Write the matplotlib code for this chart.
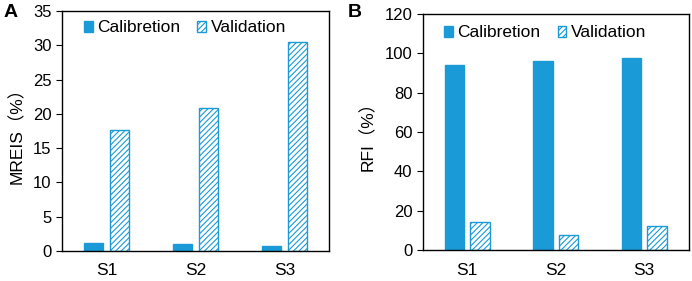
import numpy as np
import matplotlib
matplotlib.use("Agg")
from matplotlib import pyplot as plt

plt.rcParams['font.family'] = ['Liberation Sans', 'Noto Sans CJK SC', 'DejaVu Sans']
plt.rcParams['hatch.color'] = '#1a9ad6'
plt.rcParams['hatch.linewidth'] = 0.8

categories = ['S1', 'S2', 'S3']
mreis_cal = [1.1, 0.95, 0.65]
mreis_val = [17.7, 20.8, 30.4]
rfi_cal = [94.0, 96.0, 97.5]
rfi_val = [14.5, 7.5, 12.5]

blue = '#1a9ad6'


def draw_panel(ax, cal, val, ymax, step, ylabel, legend_y):
    x = np.arange(len(categories))
    w = 0.22
    ax.bar(x - 0.145, cal, w, color=blue, edgecolor=blue, label='Calibretion')
    ax.bar(x + 0.145, val, w, color='white', edgecolor=blue, hatch='//////',
           linewidth=1.0, label='Validation')
    ax.set_xlim(-0.5, len(categories) - 0.5)
    ax.set_ylim(0, ymax)
    ax.set_yticks(np.arange(0, ymax + 0.1, step))
    ax.set_xticks(x)
    ax.set_xticklabels(categories)
    ax.tick_params(axis='x', length=0, pad=9, labelsize=12.5)
    ax.tick_params(axis='y', direction='out', length=4, labelsize=12)
    ax.set_ylabel(ylabel, fontsize=12.5, labelpad=6)
    for s in ax.spines.values():
        s.set_linewidth(1.0)
    ax.legend(loc='center', ncol=2, frameon=False, fontsize=12.5,
              handlelength=0.5, handleheight=0.6, handletextpad=0.25,
              columnspacing=1.0, bbox_to_anchor=(0.46, legend_y))
    return ax


fig = plt.figure(figsize=(6.92, 2.81), dpi=100)
ax1 = fig.add_axes([0.0896, 0.107, 0.386, 0.854])
ax2 = fig.add_axes([0.611, 0.110, 0.384, 0.840])

draw_panel(ax1, mreis_cal, mreis_val, 35, 5, 'MREIS（%）', 0.929)
draw_panel(ax2, rfi_cal, rfi_val, 120, 20, 'RFI（%）', 0.92)

fig.text(0.005, 0.955, 'A', fontsize=14, fontweight='bold', va='center')
fig.text(0.503, 0.955, 'B', fontsize=14, fontweight='bold', va='center')

fig.savefig('out.png', dpi=100)
